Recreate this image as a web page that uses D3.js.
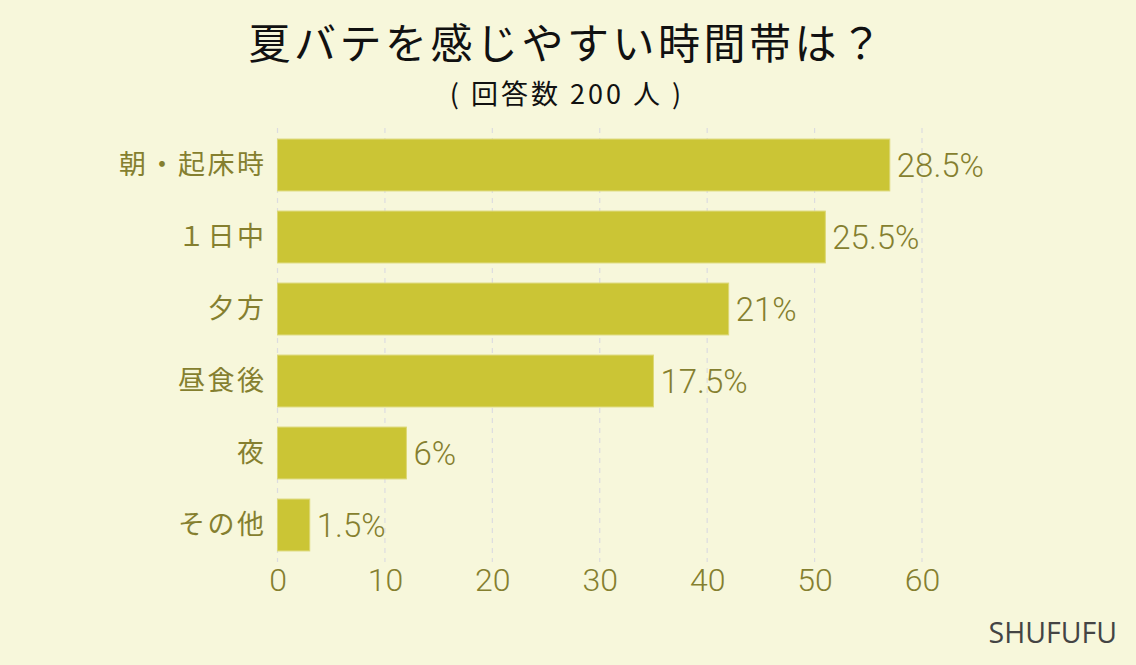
<!DOCTYPE html>
<html><head><meta charset="utf-8">
<script src="https://cdn.jsdelivr.net/npm/d3@7"></script>
<style>
html,body{margin:0;padding:0;background:#f7f7db;}
svg{display:block;}
</style></head>
<body>
<svg id="chart" width="1136" height="665"></svg>
<script>
const categories = ["朝・起床時", "１日中", "夕方", "昼食後", "夜", "その他"];
const counts = [57, 51, 42, 35, 12, 3];
const percentLabels = ["28.5%", "25.5%", "21%", "17.5%", "6%", "1.5%"];
const xTicks = [0, 10, 20, 30, 40, 50, 60];
const titleText = "夏バテを感じやすい時間帯は？";
const subtitleText = "( 回答数 200 人 )";
const creditText = "SHUFUFU";

const svg = d3.select("#chart");
const W = 1136, H = 665;
svg.append("rect").attr("width", W).attr("height", H).attr("fill", "#f7f7db");

const x = d3.scaleLinear().domain([0, 60]).range([277.5, 922]);
const y = d3.scaleBand().domain(categories).range([129, 561]).paddingInner(0.28).paddingOuter(0.14);

const textCol = "#857f2f";
const numFont = "Roboto, 'Noto Sans CJK JP', sans-serif";
const jpFont = "'Noto Sans CJK JP', sans-serif";

// grid
svg.append("g").selectAll("line").data(xTicks).join("line")
  .attr("x1", d => x(d)).attr("x2", d => x(d))
  .attr("y1", 128).attr("y2", 562)
  .attr("stroke", "#dcdce0").attr("stroke-width", 1.2)
  .attr("stroke-dasharray", "5,5");

// bars
svg.append("g").selectAll("rect").data(counts).join("rect")
  .attr("x", x(0)).attr("y", (d, i) => y(categories[i]))
  .attr("width", d => x(d) - x(0)).attr("height", y.bandwidth())
  .attr("fill", "#cbc535").attr("stroke", "#dcd875").attr("stroke-width", 1);

// value labels
svg.append("g").selectAll("text").data(counts).join("text")
  .attr("x", d => x(d) + 7).attr("y", (d, i) => y(categories[i]) + y.bandwidth() / 2)
  .attr("dy", "0.36em")
  .attr("font-family", numFont).attr("font-size", 33).attr("font-weight", 300).attr("fill", textCol)
  .text((d, i) => percentLabels[i]);

// y axis labels
const yAxis = d3.axisLeft(y).tickSize(0).tickPadding(11);
const gy = svg.append("g").attr("transform", `translate(${x(0)},0)`).call(yAxis);
gy.select(".domain").remove();
gy.selectAll("text").attr("font-family", jpFont).attr("font-size", 27).attr("font-weight", 400)
  .attr("fill", textCol).attr("letter-spacing", "2.5px").attr("dy", "0.35em");

// x axis
const xAxis = d3.axisBottom(x).tickValues(xTicks).tickSize(0).tickPadding(7).tickFormat(d3.format("d"));
const gx = svg.append("g").attr("transform", `translate(0,561)`).call(xAxis);
gx.select(".domain").remove();
gx.selectAll("text").attr("font-family", numFont).attr("font-size", 32).attr("font-weight", 300).attr("fill", textCol);

// titles
svg.append("text").attr("x", 567).attr("y", 59).attr("text-anchor", "middle")
  .attr("font-family", jpFont).attr("font-size", 42).attr("font-weight", 400).attr("letter-spacing", "3.5px")
  .attr("fill", "#111").text(titleText);
svg.append("text").attr("x", 567).attr("y", 104).attr("text-anchor", "middle")
  .attr("font-family", jpFont).attr("font-size", 27).attr("font-weight", 400).attr("letter-spacing", "3px")
  .attr("fill", "#111").text(subtitleText);
svg.append("text").attr("x", 1117).attr("y", 643).attr("text-anchor", "end")
  .attr("font-family", "'Open Sans', sans-serif").attr("font-size", 28.5)
  .attr("fill", "#444").text(creditText);
</script>
</body></html>
